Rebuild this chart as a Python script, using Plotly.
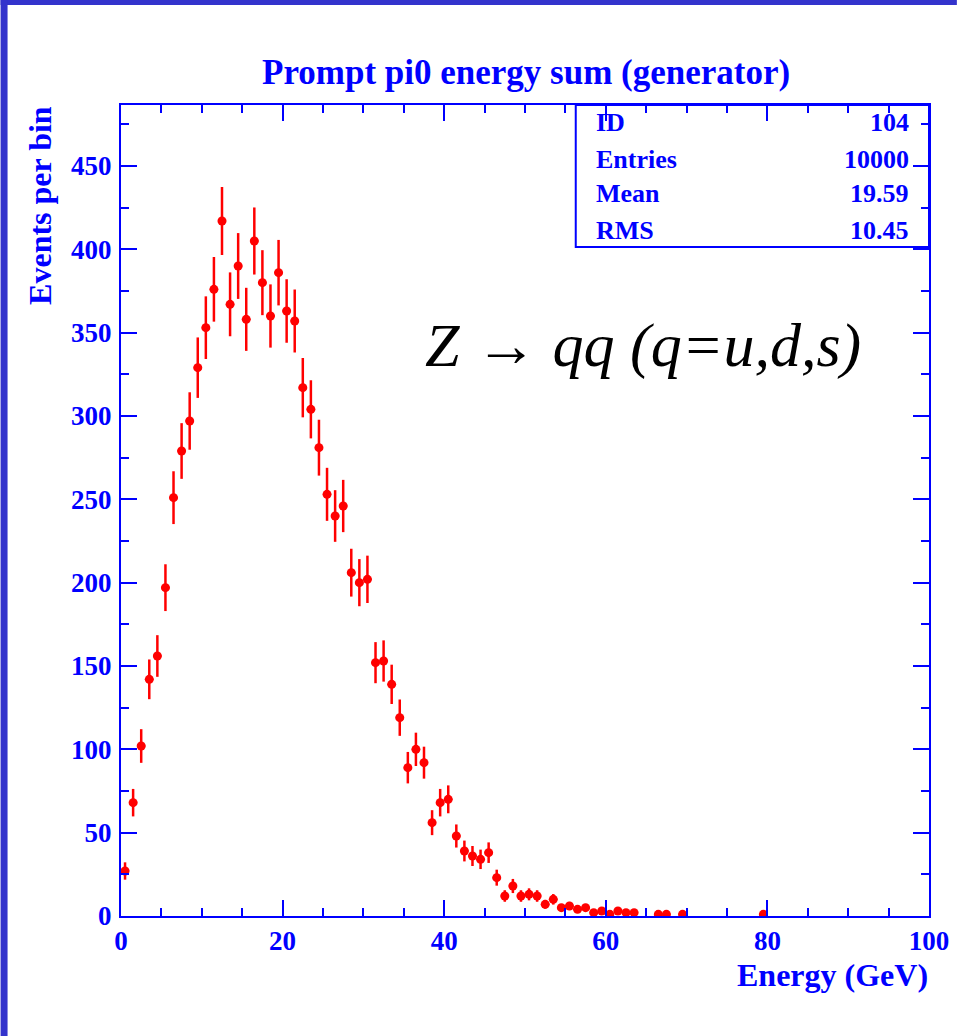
import numpy as np
import plotly.graph_objects as go

# ---- data ----
bin_centers = [i + 0.5 for i in range(80)]
counts = [27, 68, 102, 142, 156, 197, 251, 279, 297, 329,
          353, 376, 417, 367, 390, 358, 405, 380, 360, 386,
          363, 357, 317, 304, 281, 253, 240, 246, 206, 200,
          202, 152, 153, 139, 119, 89, 100, 92, 56, 68,
          70, 48, 39, 36, 34, 38, 23, 12, 18, 12,
          13, 12, 7, 10, 5, 6, 4, 5, 2, 3,
          1, 3, 2, 2, 0, 0, 1, 1, 0, 1,
          0, 0, 0, 0, 0, 0, 0, 0, 0, 1]
stats_labels = ["ID", "Entries", "Mean", "RMS"]
stats_values = ["104", "10000", "19.59", "10.45"]
title_text = "Prompt pi0 energy sum (generator)"
x_title = "Energy (GeV)"
y_title = "Events per bin"

# only non-empty bins are drawn
xs = [x for x, c in zip(bin_centers, counts) if c > 0]
ys = [c for c in counts if c > 0]
errs = [float(np.sqrt(c)) for c in ys]

BLUE = "#0000ff"
FRAME = "#3333cc"
RED = "#ff0000"
SERIF = "Liberation Serif, Times New Roman, serif"

W, H = 961, 1036
L, R, T, B = 121, 933, 105, 916


def px(x):
    return (x - L) / (R - L)


def py(y):
    return (B - y) / (B - T)


fig = go.Figure()
fig.add_trace(go.Scatter(
    x=xs, y=ys, mode="markers",
    marker=dict(color=RED, size=9, symbol="circle"),
    error_y=dict(type="data", array=errs, visible=True, color=RED,
                 thickness=2.5, width=0),
    error_x=dict(type="constant", value=0.5, visible=True, color=RED,
                 thickness=2, width=0),
    showlegend=False, hoverinfo="x+y"))

axis_common = dict(
    showgrid=False, zeroline=False, showline=True, linecolor=BLUE,
    linewidth=2, mirror="ticks", ticks="inside", tickcolor=BLUE,
    tickwidth=2, ticklen=16,
    tickfont=dict(family=SERIF, size=27, color=BLUE, weight="bold"),
)

fig.update_xaxes(range=[0, 100], tickvals=[0, 20, 40, 60, 80, 100],
                 minor=dict(dtick=5, ticks="inside", ticklen=8,
                            tickcolor=BLUE, tickwidth=2),
                 **axis_common)
fig.update_yaxes(range=[0, 486.6], tickvals=list(range(0, 451, 50)),
                 minor=dict(dtick=25, ticks="inside", ticklen=8,
                            tickcolor=BLUE, tickwidth=2),
                 ticklabelstandoff=2,
                 **axis_common)

shapes = [
    # blue frame of the slide
    dict(type="rect", xref="paper", yref="paper", x0=px(0), x1=px(W),
         y0=py(5), y1=py(0), fillcolor=FRAME, line=dict(width=0), layer="above"),
    dict(type="rect", xref="paper", yref="paper", x0=px(0), x1=px(7),
         y0=py(H), y1=py(0), fillcolor=FRAME, line=dict(width=0), layer="above"),
    # stats box
    dict(type="rect", xref="paper", yref="paper", x0=px(578), x1=px(933),
         y0=py(247), y1=py(105), fillcolor="rgba(0,0,0,0)",
         line=dict(color=BLUE, width=2), layer="above"),
]

note_html = "<i>Z</i> \u2192 <i>qq (q=u,d,s)</i>"

annotations = [
    dict(text=title_text, xref="paper", yref="paper", x=px(528), y=py(72),
         xanchor="center", yanchor="middle", showarrow=False,
         font=dict(family=SERIF, size=35, color=BLUE, weight="bold")),
    dict(text=x_title, xref="paper", yref="paper", x=px(934), y=py(975),
         xanchor="right", yanchor="middle", showarrow=False,
         font=dict(family=SERIF, size=32, color=BLUE, weight="bold")),
    dict(text=y_title, xref="paper", yref="paper", x=px(40), y=py(104),
         xanchor="center", yanchor="top", showarrow=False, textangle=-90,
         font=dict(family=SERIF, size=32, color=BLUE, weight="bold")),
    dict(text=note_html, xref="paper", yref="paper", x=px(424), y=py(345),
         xanchor="left", yanchor="middle", showarrow=False,
         font=dict(family=SERIF, size=62, color="black")),
]
row_y = [123, 160, 194, 230]
for lab, val, ry in zip(stats_labels, stats_values, row_y):
    annotations.append(dict(text=lab, xref="paper", yref="paper", x=px(596),
                            y=py(ry), xanchor="left", yanchor="middle",
                            showarrow=False,
                            font=dict(family=SERIF, size=26, color=BLUE,
                                      weight="bold")))
    annotations.append(dict(text=val, xref="paper", yref="paper", x=px(915),
                            y=py(ry), xanchor="right", yanchor="middle",
                            showarrow=False,
                            font=dict(family=SERIF, size=26, color=BLUE,
                                      weight="bold")))

fig.update_layout(
    width=W, height=H, margin=dict(l=L, r=W - R, t=T, b=H - B),
    paper_bgcolor="white", plot_bgcolor="white",
    shapes=shapes, annotations=annotations,
)

fig.write_html("out.html")
